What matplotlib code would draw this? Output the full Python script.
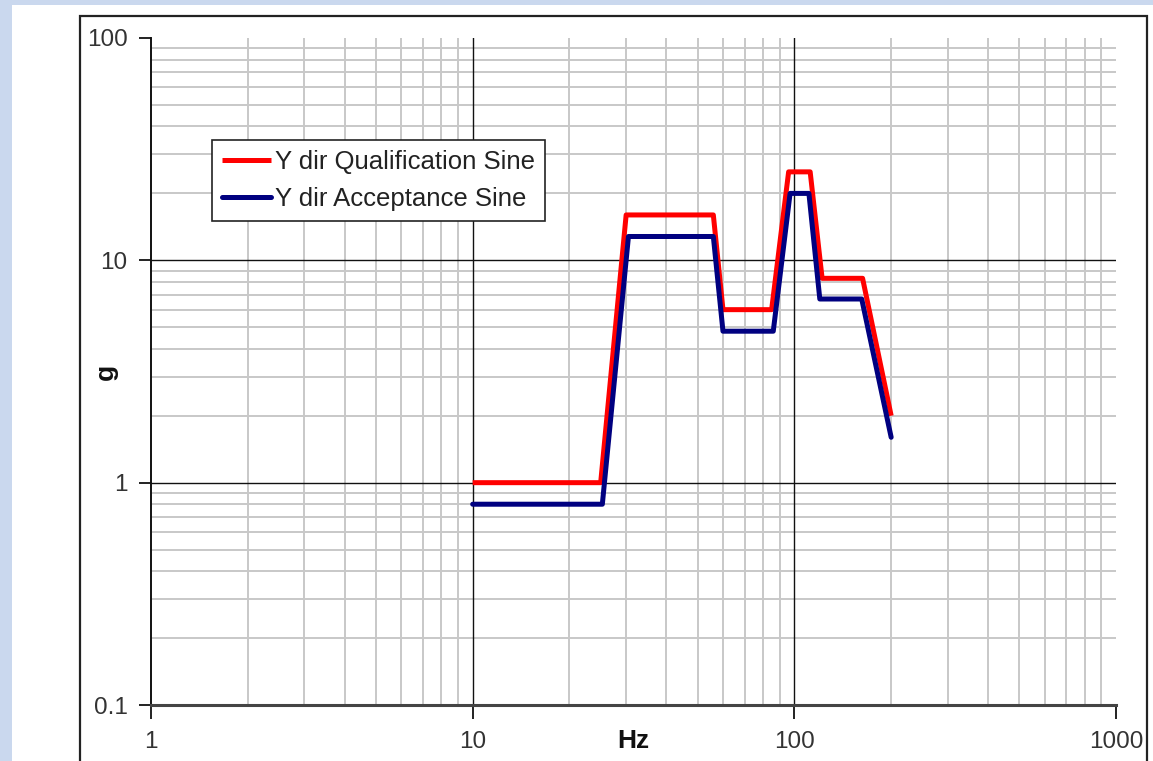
import matplotlib
matplotlib.use('Agg')
import matplotlib.pyplot as plt
from matplotlib.patches import Rectangle
from matplotlib.ticker import LogLocator, NullFormatter, FixedLocator, FixedFormatter


# Y dir sine levels
qual_freq = [10, 25, 30, 56, 60, 85, 96, 112, 122, 163, 200]
qual_g = [1.0, 1.0, 16, 16, 6.0, 6.0, 25, 25, 8.3, 8.3, 2.0]

acc_freq = [10, 25.3, 30.5, 56, 60, 86, 97, 111, 120, 162, 200]
acc_g = [0.8, 0.8, 12.8, 12.8, 4.8, 4.8, 20, 20, 6.7, 6.7, 1.6]

x_ticks = [1, 10, 100, 1000]
x_labels = ['1', '10', '100', '1000']
y_ticks = [0.1, 1, 10, 100]
y_labels = ['0.1', '1', '10', '100']

W, H = 1153, 761
plt.rcParams['font.family'] = ['Liberation Sans', 'DejaVu Sans']

fig = plt.figure(figsize=(W / 100, H / 100), dpi=100, facecolor='#cad8ee')

# slide background: white panel plus the chart border
fig.patches.append(Rectangle((12 / W, 0), 1, 1 - 5 / H, transform=fig.transFigure,
                             facecolor='white', edgecolor='none', zorder=0))
fig.patches.append(Rectangle((80 / W, -0.05), (1147 - 80) / W, 1.05 - 16 / H,
                             transform=fig.transFigure, facecolor='none',
                             edgecolor='#222222', linewidth=1.6, zorder=1))

ax = fig.add_axes([151 / W, 1 - 705 / H, (1116 - 151) / W, (705 - 38) / H])
ax.set_facecolor('none')
ax.set_zorder(3)

ax.plot(qual_freq, qual_g, color='#ff0000', lw=3.6, label='Y dir Qualification Sine',
        solid_capstyle='butt', zorder=4)
ax.plot(acc_freq, acc_g, color='#000080', lw=3.6, label='Y dir Acceptance Sine',
        solid_capstyle='round', zorder=5)

ax.set_xscale('log')
ax.set_yscale('log')
ax.set_xlim(1, 1000)
ax.set_ylim(0.1, 100)

ax.xaxis.set_major_locator(FixedLocator(x_ticks))
ax.xaxis.set_major_formatter(FixedFormatter(x_labels))
ax.yaxis.set_major_locator(FixedLocator(y_ticks))
ax.yaxis.set_major_formatter(FixedFormatter(y_labels))
ax.xaxis.set_minor_locator(LogLocator(base=10, subs=range(2, 10)))
ax.yaxis.set_minor_locator(LogLocator(base=10, subs=range(2, 10)))
ax.xaxis.set_minor_formatter(NullFormatter())
ax.yaxis.set_minor_formatter(NullFormatter())

ax.grid(True, which='minor', color='#c8c8c8', lw=1.4, zorder=1)
ax.set_axisbelow(True)
# major gridlines, Excel style: none at the top / right limit
for xv in x_ticks[1:-1]:
    ax.axvline(xv, color='#111111', lw=1.0, zorder=2)
for yv in y_ticks[1:-1]:
    ax.axhline(yv, color='#111111', lw=1.0, zorder=2)

for s in ['top', 'right']:
    ax.spines[s].set_visible(False)
ax.spines['left'].set_color('#111111')
ax.spines['left'].set_linewidth(1.4)
ax.spines['bottom'].set_color('#444444')
ax.spines['bottom'].set_linewidth(2.2)

ax.tick_params(which='minor', length=0)
ax.tick_params(axis='x', which='major', direction='out', length=10, width=1.4,
               color='#222222', labelsize=17.5, labelcolor='#333333', pad=9)
ax.tick_params(axis='y', which='major', direction='out', length=9, width=1.4,
               color='#222222', labelsize=17.5, labelcolor='#333333', pad=8)

fig.text(633 / W, 1 - 741 / H, 'Hz', ha='center', va='center', fontsize=19,
         fontweight='bold', color='#111111')
fig.text(106 / W, 1 - 372 / H, 'g', ha='center', va='center', fontsize=19,
         fontweight='bold', color='#111111', rotation=90)

leg = ax.legend(loc='upper left', bbox_to_anchor=((212 - 151) / (1116 - 151), (705 - 140) / (705 - 38)),
                borderaxespad=0, fancybox=False, shadow=False, framealpha=1,
                edgecolor='#222222', fontsize=18.5, handlelength=1.9, handletextpad=0.15,
                labelspacing=0.5, borderpad=0.4)
leg.get_frame().set_linewidth(1.2)
for t in leg.get_texts():
    t.set_color('#222222')

fig.savefig('out.png', dpi=100, facecolor=fig.get_facecolor())
